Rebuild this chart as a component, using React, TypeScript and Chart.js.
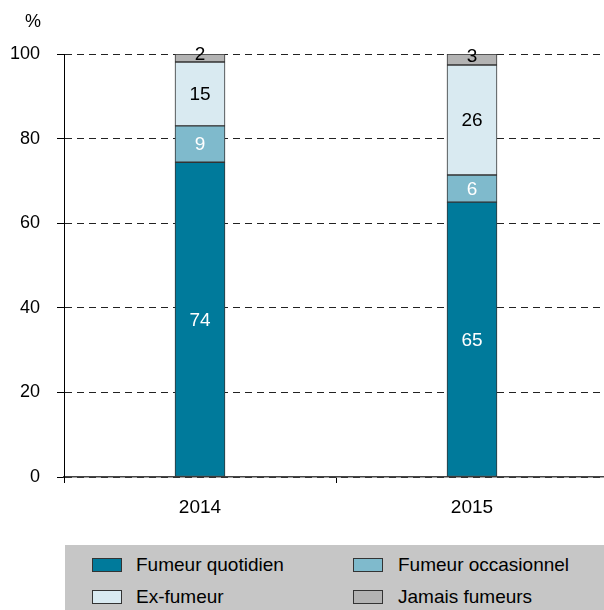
import React, { useEffect, useRef } from "react";
import { Chart, registerables } from "chart.js";

Chart.register(...registerables);

const categories = ["2014", "2015"];
const seriesNames = ["Fumeur quotidien", "Fumeur occasionnel", "Ex-fumeur", "Jamais fumeurs"];
const dailySmokers = [74.4, 65.0];
const occasionalSmokers = [8.6, 6.4];
const exSmokers = [15.1, 26.0];
const neverSmokers = [1.9, 2.6];
const yTicks = [0, 20, 40, 60, 80, 100];

const colors = ["#007a9b", "#7fbacc", "#d9eaf1", "#b3b3b3"];
const labelColors = ["#ffffff", "#ffffff", "#000000", "#000000"];
const FONT = "'Liberation Sans', Arial, sans-serif";

const labelPlugin = {
  id: "segLabels",
  afterDatasetsDraw(chart: any) {
    const ctx = chart.ctx;
    ctx.save();
    ctx.font = `19px ${FONT}`;
    ctx.textAlign = "center";
    ctx.textBaseline = "middle";
    chart.data.datasets.forEach((ds: any, di: number) => {
      const meta = chart.getDatasetMeta(di);
      meta.data.forEach((el: any, i: number) => {
        const v = ds.data[i] as number;
        const yc = (el.y + el.base) / 2 + (v < 4 ? -4 : 0) + 1;
        ctx.fillStyle = labelColors[di];
        ctx.fillText(String(Math.round(v)), el.x, yc);
      });
    });
    // % unit label
    ctx.fillStyle = "#000";
    ctx.textAlign = "right";
    ctx.font = `18px ${FONT}`;
    ctx.fillText("%", 41, 22);
    ctx.restore();
  },
};

export default function App() {
  const ref = useRef<HTMLCanvasElement>(null);
  useEffect(() => {
    const series = [dailySmokers, occasionalSmokers, exSmokers, neverSmokers];
    const chart = new Chart(ref.current!, {
      type: "bar",
      data: {
        labels: categories,
        datasets: series.map((d, i) => ({
          label: seriesNames[i],
          data: d,
          backgroundColor: colors[i],
          borderColor: "#333333",
          borderWidth: 1,
          borderSkipped: false,
          barThickness: 50,
        })),
      },
      options: {
        responsive: false,
        animation: false,
        devicePixelRatio: 1,
        layout: { padding: { top: 54, right: 2, left: 0, bottom: 0 } },
        plugins: { legend: { display: false }, tooltip: { enabled: false } },
        scales: {
          x: {
            stacked: true,
            offset: true,
            grid: {
              display: true,
              drawOnChartArea: false,
              drawTicks: true,
              tickLength: 6,
              offset: true,
              color: "#000",
            },
            border: { display: true, color: "#444", width: 1.5 },
            ticks: { color: "#000", font: { family: FONT, size: 19 }, padding: 13 },
            afterFit: (s: any) => {
              s.height = 68;
            },
          },
          y: {
            stacked: true,
            min: 0,
            max: 100,
            afterBuildTicks: (s: any) => {
              s.ticks = yTicks.map((v) => ({ value: v }));
            },
            grid: {
              color: "#222",
              lineWidth: 1,
              tickLength: 7,
              tickColor: "#000",
              tickBorderDash: [],
            },
            border: { display: true, color: "#000", width: 1, dash: [7, 5] },
            ticks: { color: "#000", font: { family: FONT, size: 18 }, padding: 17 },
            afterFit: (s: any) => {
              s.width = 64;
            },
          },
        },
      },
      plugins: [labelPlugin],
    } as any);
    return () => chart.destroy();
  }, []);

  const swatch = (c: string, left: number, top: number) => (
    <div
      style={{
        position: "absolute",
        left,
        top,
        width: 28,
        height: 12,
        background: c,
        border: "1px solid #333",
      }}
    />
  );
  const text = (t: string, left: number, top: number) => (
    <div
      style={{
        position: "absolute",
        left,
        top,
        font: `19px ${FONT}`,
        lineHeight: "20px",
        color: "#000",
        whiteSpace: "nowrap",
      }}
    >
      {t}
    </div>
  );

  return (
    <div
      style={{
        position: "fixed",
        left: 0,
        top: 0,
        width: 604,
        height: 610,
        overflow: "hidden",
        background: "#fff",
      }}
    >
      <canvas ref={ref} width={610} height={545} style={{ position: "absolute", left: 0, top: 0 }} />
      <div
        style={{
          position: "absolute",
          left: 65,
          top: 545,
          width: 539,
          height: 65,
          background: "#c6c6c6",
        }}
      />
      {swatch(colors[0], 92, 558)}
      {text(seriesNames[0], 136, 555)}
      {swatch(colors[1], 353, 558)}
      {text(seriesNames[1], 398, 555)}
      {swatch(colors[2], 92, 590)}
      {text(seriesNames[2], 136, 587)}
      {swatch(colors[3], 353, 590)}
      {text(seriesNames[3], 398, 587)}
    </div>
  );
}
